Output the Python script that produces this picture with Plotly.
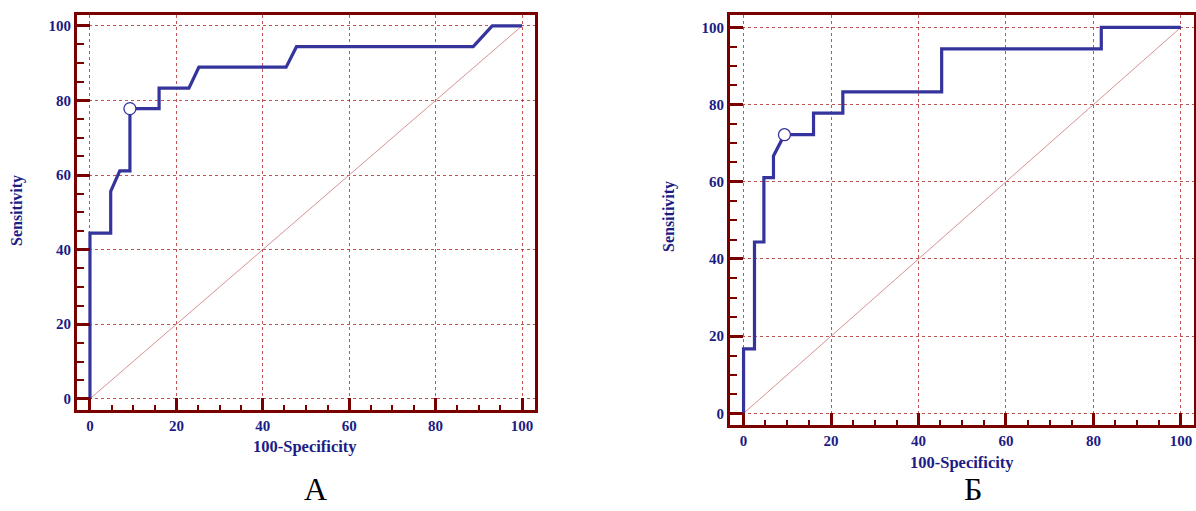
import plotly.graph_objects as go

# ROC curve A (left)
fpr_a = [0, 0, 4.8, 4.8, 6.9, 9.25, 9.25, 16.0, 16.0, 22.9, 25.2, 45.4, 47.8, 88.7, 93.1, 100]
sens_a = [0, 44.4, 44.4, 55.6, 61.1, 61.1, 77.8, 77.8, 83.3, 83.3, 88.9, 88.9, 94.4, 94.4, 100, 100]
cut_a = ([9.25], [77.8])

# ROC curve Б (right)
fpr_b = [0, 0, 2.5, 2.5, 4.65, 4.65, 6.84, 6.84, 9.35, 16.0, 16.0, 22.7, 22.7, 45.3, 45.3, 81.8, 81.8, 100]
sens_b = [0, 16.7, 16.7, 44.4, 44.4, 61.1, 61.1, 66.7, 72.2, 72.2, 77.8, 77.8, 83.3, 83.3, 94.4, 94.4, 100, 100]
cut_b = ([9.35], [72.2])

diag = [0, 100]
ticks = [0, 20, 40, 60, 80, 100]

W, H = 1196, 511
FRAME = "#7a0000"
GRID = "rgba(170,30,30,0.75)"
CURVE = "#34349c"
LABEL = "#1c1c84"
SERIF = "Liberation Serif"

fig = go.Figure()

def add_panel(fx, fy, cx, cy, xa, ya):
    fig.add_trace(go.Scatter(x=diag, y=diag, mode="lines", xaxis=xa, yaxis=ya,
                             line=dict(color="rgba(200,110,110,0.75)", width=1), hoverinfo="skip"))
    fig.add_trace(go.Scatter(x=fx, y=fy, mode="lines", xaxis=xa, yaxis=ya,
                             line=dict(color=CURVE, width=3.2)))
    fig.add_trace(go.Scatter(x=cx, y=cy, mode="markers", xaxis=xa, yaxis=ya,
                             marker=dict(symbol="circle", size=12, color="white",
                                         line=dict(color=CURVE, width=1.3))))

add_panel(fpr_a, sens_a, cut_a[0], cut_a[1], "x", "y")
add_panel(fpr_b, sens_b, cut_b[0], cut_b[1], "x2", "y2")

def px_x(p):
    return p / W

def px_y(p):
    return 1 - p / H

def axis(domain, rng, major_len, minor_len, anchor):
    return dict(
        domain=domain, range=rng, anchor=anchor,
        tickvals=ticks, ticks="inside", ticklen=major_len, tickwidth=3, tickcolor=FRAME,
        minor=dict(dtick=5, tick0=0, ticks="inside", ticklen=minor_len, tickwidth=2, tickcolor=FRAME,
                   showgrid=False),
        showline=True, linecolor=FRAME, linewidth=3, mirror=True,
        showgrid=True, gridcolor=GRID, griddash="dot", gridwidth=1,
        zeroline=False,
        tickfont=dict(family=SERIF, size=15, color=LABEL, weight="bold"),
        fixedrange=True,
    )

fig.update_layout(
    width=W, height=H,
    margin=dict(l=0, r=0, t=0, b=0),
    paper_bgcolor="white", plot_bgcolor="white",
    showlegend=False,
    xaxis=axis([px_x(77), px_x(535)], [-3.0, 103.0], 12, 5, "y"),
    yaxis=axis([px_y(410), px_y(15)], [-3.0, 102.9], 13, 7, "x"),
    xaxis2=axis([px_x(730), px_x(1194)], [-3.1, 103.0], 12, 5, "y2"),
    yaxis2=axis([px_y(425), px_y(15)], [-3.0, 103.2], 13, 7, "x2"),
)

def ann(text, x, y, size, color, bold=True, angle=0):
    fig.add_annotation(text=text, x=px_x(x), y=px_y(y), xref="paper", yref="paper",
                       showarrow=False, textangle=angle, xanchor="center", yanchor="middle",
                       font=dict(family=SERIF, size=size, color=color, weight="bold" if bold else "normal"))

ann("Sensitivity", 17, 211, 16, LABEL, angle=-90)
ann("Sensitivity", 669, 217, 16, LABEL, angle=-90)
ann("100-Specificity", 305, 446, 16.5, LABEL)
ann("100-Specificity", 962, 462, 16.5, LABEL)
ann("А", 315, 489, 32, "black", bold=False)
ann("Б", 973, 489, 32, "black", bold=False)

fig.write_html("out.html", config={"displayModeBar": False},
               post_script="document.body.style.margin='0';document.body.style.padding='0';")
